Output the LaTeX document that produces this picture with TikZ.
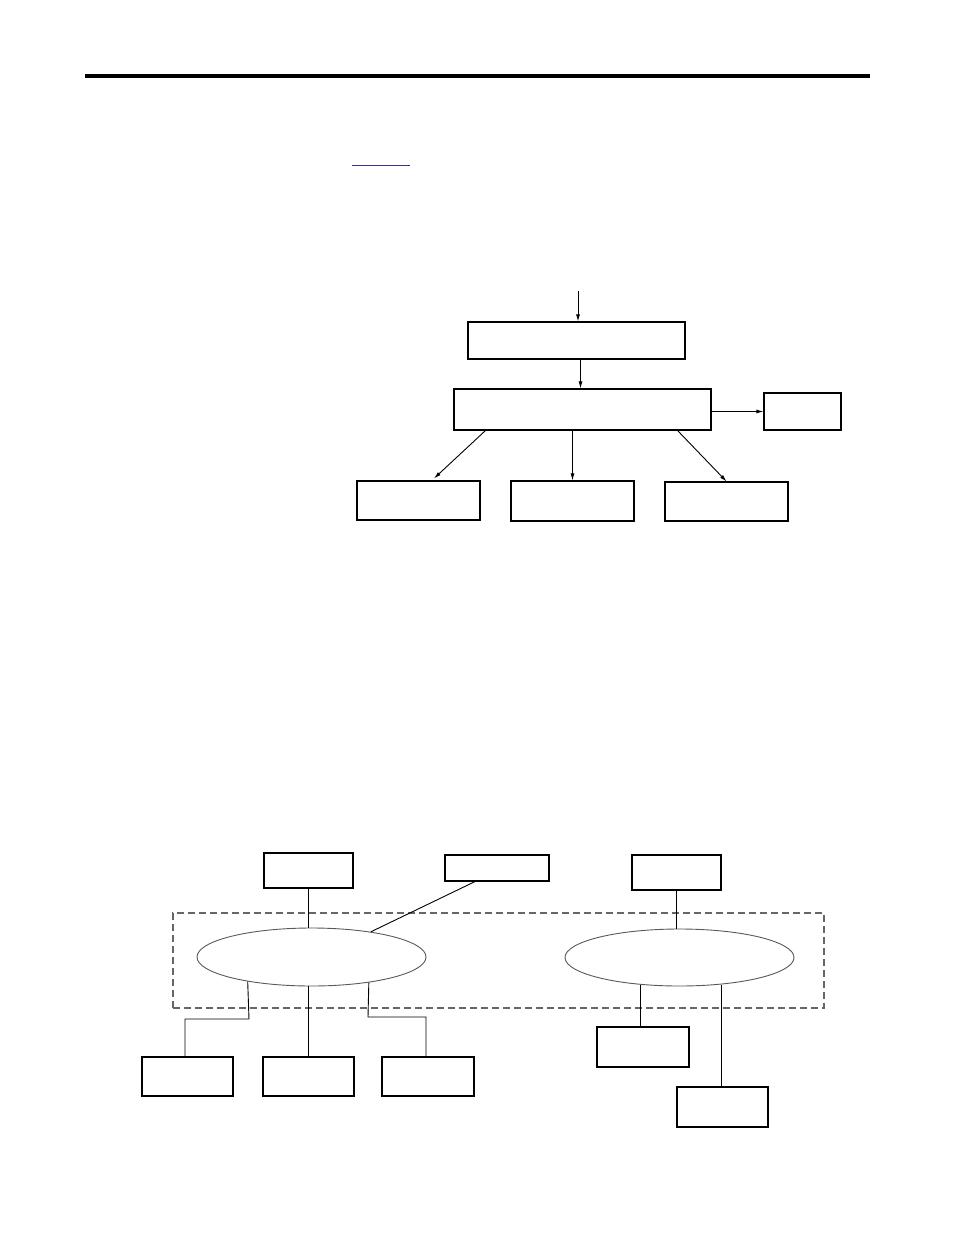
\documentclass[tikz,border=0pt]{standalone}
\usetikzlibrary{shapes.geometric,arrows.meta}
\definecolor{navyline}{rgb}{0.2,0.2,0.55}
\definecolor{ellgray}{gray}{0.35}
\definecolor{dashgray}{gray}{0.4}
\tikzset{
  box/.style={draw=black,line width=1.1pt,rectangle,inner sep=0pt,fill=white},
  oval/.style={draw=ellgray,line width=0.9pt,ellipse,inner sep=0pt},
  frame/.style={draw=dashgray,line width=1.3pt,dash pattern=on 7pt off 4pt,rectangle,inner sep=0pt},
  link/.style={draw=black,line width=0.9pt},
  arr/.style={draw=black,line width=0.9pt,-{Latex[length=7pt,width=4pt]}}
}
\begin{document}
\begin{tikzpicture}[x=1pt,y=-1pt]
\useasboundingbox (0,0) rectangle (954,1235);
% header rule and short underline
\coordinate (hl) at (85,76);
\coordinate (hr) at (870,76);
\draw[line width=3.5pt] (hl) -- (hr);
\coordinate (ul) at (352,165);
\coordinate (ur) at (410,165);
\draw[navyline,line width=1pt] (ul) -- (ur);

% ---- top diagram ----
\node[box,minimum width=217pt,minimum height=37pt] (b1) at (576.5,340.5) {};
\node[box,minimum width=257pt,minimum height=41pt] (b2) at (582.5,409.5) {};
\node[box,minimum width=77pt,minimum height=37pt] (r) at (802.5,411.5) {};
\node[box,minimum width=123pt,minimum height=39pt] (bb1) at (418.5,500.5) {};
\node[box,minimum width=123pt,minimum height=40pt] (bb2) at (572.5,501) {};
\node[box,minimum width=123pt,minimum height=39pt] (bb3) at (726.5,501.5) {};
\coordinate (in) at (578,291);

\draw[arr] (in) -- (in |- b1.north);
\draw[arr] ([xshift=4pt]b1.south) -- ([xshift=4pt]b1.south |- b2.north);
\draw[arr] (b2.east |- r.west) -- (r.west);
\draw[arr] ([xshift=32pt]b2.south west) -- ([xshift=15.5pt,yshift=2pt]bb1.north);
\draw[arr] (b2.south -| bb2.north) -- (bb2.north);
\draw[arr] ([xshift=-34pt]b2.south east) -- (bb3.north);

% ---- bottom diagram ----
\node[frame,minimum width=651pt,minimum height=95pt] (fr) at (498.5,960.5) {};
\node[oval,minimum width=229pt,minimum height=58pt] (e1) at (311.5,957) {};
\node[oval,minimum width=229pt,minimum height=57pt] (e2) at (679.5,957.5) {};
\node[box,minimum width=89pt,minimum height=35pt] (a) at (308.5,870.5) {};
\node[box,minimum width=104pt,minimum height=26pt] (c) at (497,868) {};
\node[box,minimum width=89pt,minimum height=35pt] (e) at (676.5,872.5) {};
\node[box,minimum width=91pt,minimum height=39pt] (d1) at (187.5,1076.5) {};
\node[box,minimum width=91pt,minimum height=39pt] (d2) at (308.5,1076.5) {};
\node[box,minimum width=92pt,minimum height=39pt] (d3) at (428,1076.5) {};
\node[box,minimum width=92pt,minimum height=40pt] (f1) at (643,1047) {};
\node[box,minimum width=91pt,minimum height=40pt] (f2) at (722.5,1107) {};

\coordinate (k1) at (249,1019);
\coordinate (k2) at (368,1017);

\draw[link] (a.south) -- (a.south |- e1.north);
\draw[link] ([xshift=-22pt]c.south) -- (e1.23);
\draw[link] (e1.201) -- (k1) -| ([xshift=-2.5pt]d1.north);
\draw[link] (d2.north |- e1.south) -- (d2.north);
\draw[link] (e1.-24) -- (k2) -| ([xshift=-2pt]d3.north);
\draw[link] (e.south) -- (e.south |- e2.north);
\draw[link] (e2.215) -- (e2.215 |- f1.north);
\draw[link] (e2.-33) -- (e2.-33 |- f2.north);
\end{tikzpicture}
\end{document}
